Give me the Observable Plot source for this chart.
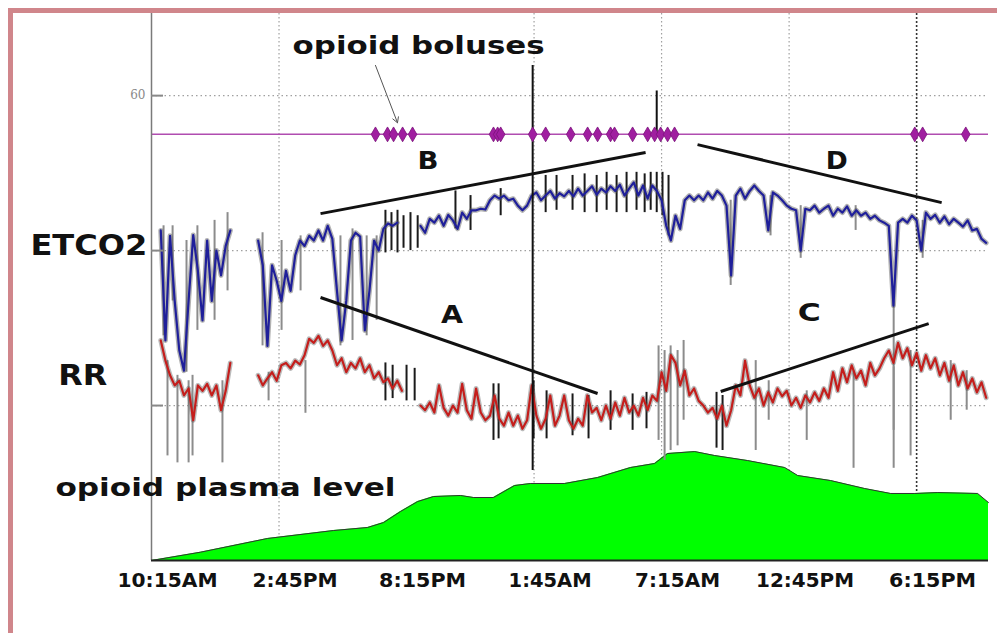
<!DOCTYPE html>
<html><head><meta charset="utf-8">
<script src="https://cdn.jsdelivr.net/npm/d3@7"></script>
<script src="https://cdn.jsdelivr.net/npm/@observablehq/plot@0.6"></script>
<style>
html,body{margin:0;padding:0;background:#fff;width:997px;height:633px;overflow:hidden;}
#chart{position:absolute;left:0;top:0;}
#frame{position:absolute;left:8px;top:8px;width:1200px;height:700px;border-left:5px solid #d0868b;border-top:5px solid #d0868b;box-sizing:border-box;pointer-events:none;}
</style></head><body>
<div id="chart"></div><div id="frame"></div>
<script>
// ---- data (hours since 10:15AM; values in chart units) ----
const sampleHours = 0.2;
const tickHours = [0, 5.5, 11, 16.5, 22, 27.5, 33];
const tickLabels = ["10:15AM", "2:45PM", "8:15PM", "1:45AM", "7:15AM", "12:45PM", "6:15PM"];
const gridHours = [5.5, 16.5, 22, 27.5];
const darkGridHours = [33];
const gridLevels = [20, 40, 60];
const yLabelLevels = [60];

const etco2Values = [null, null,
 42.6, 28.4, 41.9, 33.5, 27.1, 24.5, 33.5, 42, 37.4, 31, 41.3, 33.5, 40, 36.8, 40.6, 42.6,
 null, null, null, null, null,
 41.3, 38.1, 27.7, 38.1, 36.1, 33.5, 37.4, 34.8, 39.4, 41.3, 40.6, 41.9, 41.3, 42.6, 41.3, 43.2, 41.5, 34.8, 28.4, 33.5,
 41.3, 42.3, 41.8, 29.7, 34.8, 41.3, 40, 42.8, 43.5, 43.2, 43.6,
 null, null, null, null,
 43.2, 42.3, 44.1, 43.6, 44.5, 43.2, 44.6, 43.9, 42.8, 44.9,
 44.1, 45.2, 45.2, 45.4, 45.3, 46.5, 47.1, 46.7, 47.1, 46.5,
 46.7, 45.8, 45.2, 45.8, 47.1, 47.5, 46.5, 47.1, 47.7, 46.7,
 47.4, 47, 47.7, 47, 48, 47.1, 47.7, 48.3, 47.2, 48,
 47.5, 48.3, 47.7, 48.5, 47.1, 48, 48.8, 47.1, 48.4, 46.7,
 48.4, 47.7, 46.5, 43.2, 41.3, 44.5, 42.8, 46.5, 47.1, 46.5,
 47.1,
 46.5, 47.5, 46.7, 47.7, 47.1, 45.8, 36.8, 47.1, 48, 46.7,
 47.7, 48.4, 47.7, 47.1, 42.6, 47.5, 47.1, 46.5, 45.8, 45.4,
 45.2, 40, 45.4, 45.2, 45.8, 44.9, 45.4, 45.8, 44.5, 45.4,
 44.9, 45.7, 44.5, 45.2, 44.5, 44.9, 44.1, 44.5, 43.9, 43.6,
 43.2, 32.9, 43.6, 44.1, 43.6, 44.5, 43.9, 40, 44.9, 44.1,
 44.6, 43.6, 44.4, 43.4, 44.1, 43.6, 43.1, 43.9, 42.6, 42.8,
 41.5, 41];

const rrValues = [null, null,
 28.4, 25.8, 23.9, 22.6, 23.2, 21.3, 22.2, 18.1, 22.6, 21.9, 22.8, 21.3, 22.6, 19.4, 21.9, 25.5,
 null, null, null, null, null,
 23.9, 22.6, 23.5, 24.3, 23.2, 25.2, 25.5, 24.8, 25.8, 25.3,
 26.5, 28.6, 28.1, 29, 27.7, 28.4, 27.1, 25.2, 26.1, 24.3,
 25.5, 24.8, 26.1, 24.3, 25.2, 23.5, 24.3, 23, 23.5, 22.2,
 23.2, 21.9,
 null, null, null,
 20, 19.4, 20.4, 19.1, 22.6, 19.7, 18.7, 20, 19.1, 22.8,
 19.4, 18.3, 22.2, 19.1, 18.1, 18.7, 21.3, 18.3, 17.4, 19.1,
 17.4, 18.7, 17, 18.1, 22.6, 18.7, 17, 18.3, 21.3, 17.4,
 18.7, 21.3, 18.1, 17, 18.3, 17.4, 21.3, 19.1, 19.7, 18.1,
 20, 18.3, 20.4, 18.7, 21, 19.1, 20, 18.7, 21, 19.4,
 21.3, 20.6, 24.3, 21.9, 26.5, 25.5, 22.6, 24.5, 21.3, 22.2,
 20.6,
 20, 19.1, 19.7, 18.3, 20, 17.4, 19.4, 22.6, 21.3, 25.8,
 22.6, 21, 22.2, 20, 21.7, 20.4, 22.2, 21.2, 21.9, 20,
 21, 19.7, 21.3, 20.4, 21.7, 20.6, 22.2, 21, 24.3, 21.9,
 24.8, 23, 25.2, 23.5, 24.5, 22.6, 25.5, 23.9, 24.8, 26.1,
 27.1, 25.5, 28.1, 26.1, 27.4, 25.2, 26.8, 24.5, 26.5, 24.8,
 26.1, 23.9, 25.5, 23.2, 25.2, 22.6, 24.3, 22.2, 23.5, 21.7,
 23, 21];

const plasmaHours = [0, 2.11, 5.00, 7.85, 9.32, 10.01, 10.74, 11.48, 12.17, 13.33, 13.89, 14.75, 15.66, 16.35, 17.82, 19.24, 20.66, 21.70, 22.26, 23.43, 24.29, 25.71, 27.31, 27.87, 29.29, 30.76, 31.88, 32.92, 33.91, 35.63, 36.1];
const plasmaLevel = [0, 1.07, 2.84, 3.87, 4.26, 4.90, 6.32, 7.61, 8.26, 8.39, 8.13, 8.13, 9.68, 9.94, 9.94, 10.71, 12.00, 12.52, 13.81, 14.06, 13.55, 12.90, 12.00, 10.97, 10.32, 9.29, 8.65, 8.65, 8.77, 8.65, 7.48];

const bolusLevel = 55;
const bolusHours = [9.66, 10.18, 10.44, 10.83, 11.26, 14.75, 14.93, 15.06, 16.44, 17.0, 18.08, 18.81, 19.24, 19.80, 19.97, 20.75, 21.40, 21.70, 21.96, 22.26, 22.56, 32.92, 33.26, 35.12];

// min/max excursions drawn behind the traces
const grayTraces = [
 {t:0.52, lo:29.0, hi:43.2}, {t:0.91, lo:33.5, hi:43.2}, {t:1.51, lo:24.3, hi:41.3}, {t:1.98, lo:29.7, hi:43.2},
 {t:2.72, lo:31.0, hi:43.9}, {t:3.28, lo:34.8, hi:44.9}, {t:4.79, lo:27.7, hi:42.3}, {t:5.61, lo:29.7, hi:41.3},
 {t:6.43, lo:34.8, hi:41.9}, {t:8.15, lo:27.7, hi:41.9}, {t:8.67, lo:28.4, hi:42.8}, {t:9.28, lo:29.0, hi:41.9},
 {t:9.71, lo:31.0, hi:41.9}, {t:24.98, lo:35.5, hi:46.5}, {t:26.7, lo:41.9, hi:47.1}, {t:28.0, lo:39.0, hi:45.8},
 {t:30.37, lo:42.6, hi:45.8}, {t:32.01, lo:16.8, hi:33.5}, {t:33.26, lo:39.0, hi:43.9},
 {t:0.69, lo:13.5, hi:25.8}, {t:1.12, lo:12.6, hi:23.9}, {t:1.6, lo:12.6, hi:23.2}, {t:1.77, lo:13.5, hi:23.9},
 {t:3.06, lo:12.6, hi:23.2}, {t:5.05, lo:20.6, hi:24.3}, {t:6.64, lo:19.0, hi:25.8}, {t:21.87, lo:15.5, hi:27.7},
 {t:22.13, lo:12.9, hi:27.1}, {t:22.39, lo:14.2, hi:27.7}, {t:22.69, lo:14.8, hi:27.1}, {t:22.95, lo:18.1, hi:28.4},
 {t:26.06, lo:14.2, hi:25.8}, {t:26.62, lo:18.1, hi:23.2}, {t:28.26, lo:15.5, hi:21.9}, {t:30.28, lo:11.9, hi:24.5},
 {t:32.01, lo:11.9, hi:25}, {t:32.74, lo:13.5, hi:27.1}, {t:34.47, lo:18.1, hi:25.8}, {t:35.16, lo:19.4, hi:24.5}
];
const darkTraces = [
 {t:10.09, lo:39.7, hi:45.2}, {t:10.35, lo:40, hi:44.9}, {t:10.61, lo:39.7, hi:45.2}, {t:10.87, lo:40.3, hi:44.5},
 {t:11.17, lo:40, hi:44.9}, {t:11.48, lo:40.3, hi:44.5}, {t:13.11, lo:42.8, hi:47.7}, {t:13.76, lo:42.6, hi:47.1},
 {t:15.06, lo:44.5, hi:48}, {t:17.0, lo:44.9, hi:49.7}, {t:17.47, lo:45.2, hi:49.7}, {t:18.16, lo:45.2, hi:49.7},
 {t:18.68, lo:44.9, hi:49.9}, {t:19.2, lo:44.9, hi:49.7}, {t:19.63, lo:45.2, hi:50.1}, {t:20.06, lo:44.9, hi:49.7},
 {t:20.49, lo:44.9, hi:50.1}, {t:20.92, lo:45.2, hi:50.1}, {t:21.27, lo:44.9, hi:49.9}, {t:21.53, lo:45.2, hi:50.1},
 {t:21.79, lo:44.9, hi:50.1}, {t:22.04, lo:44.5, hi:50.1}, {t:22.3, lo:41.9, hi:49.7},
 {t:10.09, lo:20.6, hi:25.5}, {t:10.4, lo:20.9, hi:25.2}, {t:11.0, lo:20.6, hi:25.2}, {t:11.35, lo:20.6, hi:24.8},
 {t:14.75, lo:15.5, hi:22.8}, {t:14.97, lo:15.7, hi:22.8}, {t:16.48, lo:15.7, hi:23.2}, {t:17.04, lo:15.7, hi:21.9},
 {t:18.16, lo:16.1, hi:21.5}, {t:18.85, lo:15.7, hi:21.3}, {t:19.8, lo:16.8, hi:21.9}, {t:20.75, lo:16.8, hi:21.5},
 {t:21.35, lo:17, hi:21.7}, {t:24.37, lo:14.5, hi:21.7}, {t:24.63, lo:14.2, hi:21.3}
];
const eventLines = [{t:16.44, lo:11.6, hi:63.9}, {t:21.79, lo:54.8, hi:60.6}];

const trendLines = [
 {name:"A", t1:7.29, v1:33.94, t2:19.24, v2:21.55},
 {name:"B", t1:7.29, v1:44.77, t2:21.31, v2:52.65},
 {name:"C", t1:24.55, v1:21.81, t2:33.52, v2:30.58},
 {name:"D", t1:23.55, v1:53.68, t2:34.08, v2:46.19}
];
const segmentLabels = [
 {text:"A", t:12.96, v:31.7}, {text:"B", t:11.93, v:51.6},
 {text:"C", t:28.37, v:32.0}, {text:"D", t:29.55, v:51.6}
];
const sideLabels = [{text:"ETCO2", t:-2.70, v:40.6}, {text:"RR", t:-2.96, v:23.8}];
const noteLabels = [{text:"opioid boluses", t:11.52, v:66.4}, {text:"opioid plasma level", t:3.19, v:9.38}];
const noteArrow = [{t1:9.66, v1:63.9, t2:10.61, v2:56.5}];

// ---- build rows ----
const rows = etco2Values.map((v, i) => ({t: i * sampleHours, etco2: v, rr: rrValues[i]}));
const plasma = plasmaHours.map((t, i) => ({t, level: plasmaLevel[i]}));
const boluses = bolusHours.map(t => ({t, level: bolusLevel}));
const xDomain = [0, 36.1];
const yDomain = [0, 70.6];
const inTickLen = xDomain[1] * 12 / 837;
const yTicks = gridLevels.map(v => ({v, a: 0, b: inTickLen}));
const labelByHour = new Map(tickHours.map((h, i) => [h, tickLabels[i]]));

// rendered widths for the heavy, wide lettering
const textWidths = {
 "ETCO2": 117, "RR": 49, "opioid boluses": 252, "opioid plasma level": 340,
 "A": 22, "B": 21, "C": 23, "D": 22,
 "10:15AM": 100, "2:45PM": 85, "8:15PM": 87, "1:45AM": 83, "7:15AM": 85, "12:45PM": 98, "6:15PM": 87
};

const bold = {fontFamily: "DejaVu Sans", fontWeight: "bold", fill: "#111"};

const svg = Plot.plot({
  width: 997, height: 633,
  marginLeft: 151, marginRight: 9, marginTop: 13, marginBottom: 73,
  x: {domain: xDomain, axis: null},
  y: {domain: yDomain, axis: null},
  style: {background: "transparent", fontFamily: "DejaVu Sans", overflow: "visible"},
  marks: [
    Plot.ruleY(gridLevels, {stroke: "#a0a0a0", strokeDasharray: "1.5,3", strokeWidth: 1.2}),
    Plot.ruleX(gridHours, {stroke: "#a0a0a0", strokeDasharray: "1.5,2.5", strokeWidth: 1.2}),
    Plot.ruleX(darkGridHours, {stroke: "#333", strokeDasharray: "2,2", strokeWidth: 1.6}),
    Plot.areaY(plasma, {x: "t", y: "level", fill: "#00ff00", curve: "linear"}),
    Plot.line(plasma, {x: "t", y: "level", stroke: "#333", strokeWidth: 1}),
    Plot.ruleX(grayTraces, {x: "t", y1: "lo", y2: "hi", stroke: "#8c8c8c", strokeWidth: 2}),
    Plot.ruleX(darkTraces, {x: "t", y1: "lo", y2: "hi", stroke: "#1a1a1a", strokeWidth: 2}),
    Plot.line(rows, {x: "t", y: "etco2", stroke: "#555", strokeWidth: 5, strokeOpacity: 0.45}),
    Plot.line(rows, {x: "t", y: "rr", stroke: "#555", strokeWidth: 5, strokeOpacity: 0.4}),
    Plot.line(rows, {x: "t", y: "etco2", stroke: "#1f1f9a", strokeWidth: 2.2}),
    Plot.line(rows, {x: "t", y: "rr", stroke: "#c41e1c", strokeWidth: 2.2}),
    Plot.ruleX(eventLines, {x: "t", y1: "lo", y2: "hi", stroke: "#111", strokeWidth: 2}),
    Plot.ruleY([bolusLevel], {stroke: "#b04cb0", strokeWidth: 1.5}),
    Plot.dot(boluses, {x: "t", y: "level", symbol: "diamond", r: 4.5, fill: "#a01ea0", stroke: "#7a107a", strokeWidth: 0.8}),
    Plot.link(trendLines, {x1: "t1", y1: "v1", x2: "t2", y2: "v2", stroke: "#111", strokeWidth: 3}),
    Plot.arrow(noteArrow, {x1: "t1", y1: "v1", x2: "t2", y2: "v2", stroke: "#555", strokeWidth: 1, headLength: 9, bend: 0}),
    Plot.ruleX([0], {stroke: "#7a7a7a", strokeWidth: 1.5}),
    Plot.ruleY([0], {stroke: "#222", strokeWidth: 2}),
    Plot.ruleY(yTicks, {y: "v", x1: "a", x2: "b", stroke: "#888", strokeWidth: 2}),
    Plot.axisY(yLabelLevels, {anchor: "left", tickSize: 0, tickPadding: 6, fontSize: 12, fill: "#888", fontFamily: "DejaVu Serif"}),
    Plot.axisX(tickHours, {anchor: "bottom", tickSize: 0, tickPadding: 13, dx: 16, tickFormat: d => labelByHour.get(d), fontSize: 19, ...bold}),
    Plot.text(sideLabels, {x: "t", y: "v", text: "text", fontSize: 29, ...bold}),
    Plot.text(noteLabels, {x: "t", y: "v", text: "text", fontSize: 24, ...bold}),
    Plot.text(segmentLabels, {x: "t", y: "v", text: "text", fontSize: 25, ...bold})
  ]
});

d3.select(svg).selectAll("text").each(function() {
  const w = textWidths[this.textContent];
  if (w) {
    this.setAttribute("textLength", w);
    this.setAttribute("lengthAdjust", "spacingAndGlyphs");
  }
});
document.getElementById("chart").appendChild(svg);
</script></body></html>
